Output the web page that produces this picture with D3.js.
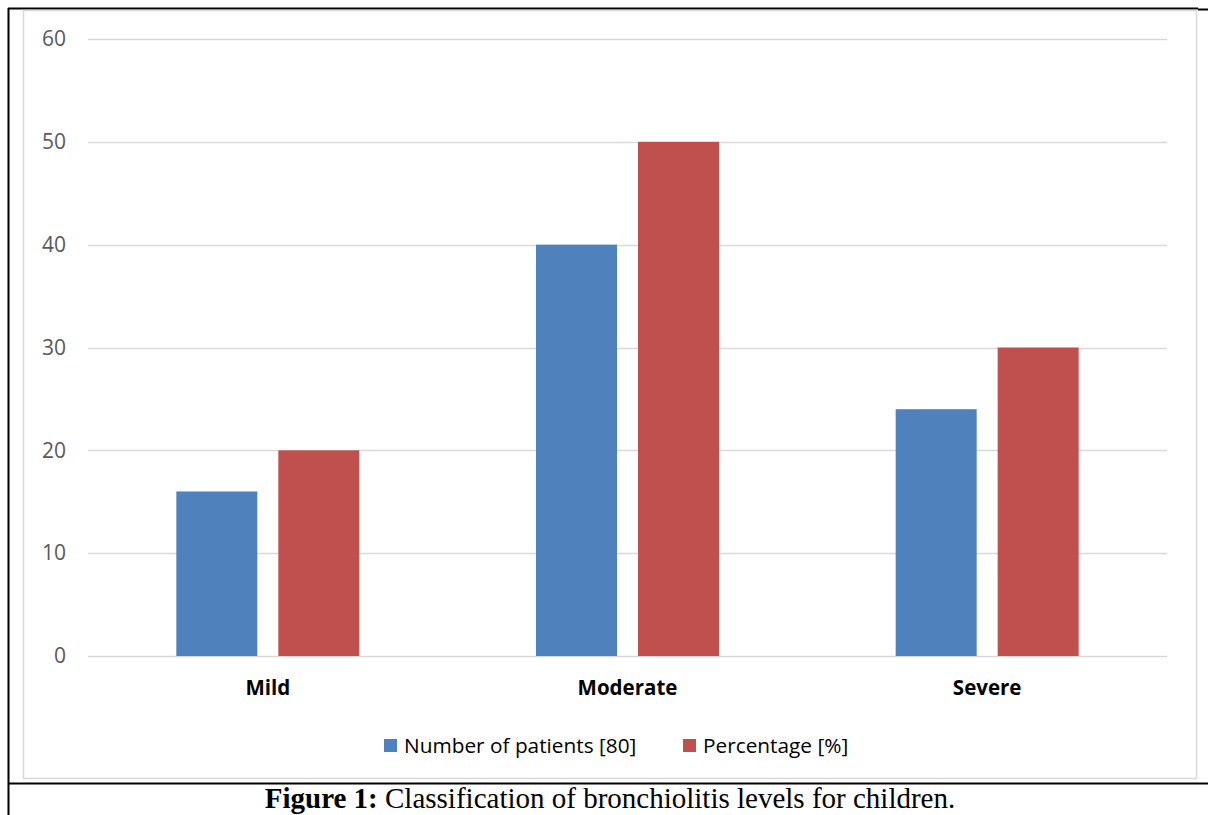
<!DOCTYPE html>
<html><head><meta charset="utf-8">
<script src="https://cdn.jsdelivr.net/npm/d3@7"></script>
<style>body{margin:0;background:#fff}svg{display:block}</style>
</head><body><svg id="c" width="1208" height="815"></svg>
<script>
const categories = ["Mild", "Moderate", "Severe"];
const seriesNames = ["Number of patients [80]", "Percentage [%]"];
const patients = [16, 40, 24];
const percentage = [20, 50, 30];
const yTicks = [0, 10, 20, 30, 40, 50, 60];
const colors = ["#4F81BD", "#C0504D"];
const caption = ["Figure 1:", " Classification of bronchiolitis levels for children."];

const svg = d3.select("#c");
const font = "'Open Sans', sans-serif";

// outer black frame lines
svg.append("line").attr("x1",8.5).attr("x2",8.5).attr("y1",8).attr("y2",815).attr("stroke","#000").attr("stroke-width",2);
svg.append("line").attr("x1",8).attr("x2",1198).attr("y1",8.5).attr("y2",8.5).attr("stroke","#000").attr("stroke-width",2);
svg.append("line").attr("x1",1198).attr("x2",1208).attr("y1",9.5).attr("y2",9.5).attr("stroke","#000").attr("stroke-width",2);
svg.append("line").attr("x1",8).attr("x2",1208).attr("y1",783.5).attr("y2",783.5).attr("stroke","#000").attr("stroke-width",2);

// chart area gray frame
svg.append("rect").attr("x",23.5).attr("y",10.5).attr("width",1173).attr("height",768)
  .attr("fill","#fff").attr("stroke","#d9d9d9").attr("stroke-width",1.5);

const x0 = d3.scaleBand().domain(categories).range([88, 1167]).paddingInner(0).paddingOuter(0);
const y = d3.scaleLinear().domain([0, 60]).range([656, 39]);

// gridlines
svg.append("g").selectAll("line").data(yTicks).join("line")
  .attr("x1", 88).attr("x2", 1167)
  .attr("y1", d => Math.round(y(d)) + 0.5).attr("y2", d => Math.round(y(d)) + 0.5)
  .attr("stroke", "#d9d9d9").attr("stroke-width", 1.5);

// y axis labels
const yAxis = d3.axisLeft(y).tickValues(yTicks).tickSize(0).tickPadding(0);
const gy = svg.append("g").attr("transform","translate(66,0)").call(yAxis);
gy.select(".domain").remove();
gy.selectAll("text").attr("font-family", font).attr("font-size", 21).attr("fill", "#595959");

// bars
const series = [patients, percentage];
const barW = 81, gap = 21;
const barData = [];
categories.forEach((c, i) => {
  series.forEach((s, j) => {
    const cx = x0(c) + x0.bandwidth() / 2;
    const left = cx - (barW * 2 + gap) / 2 + j * (barW + gap);
    barData.push({x: left, v: s[i], color: colors[j]});
  });
});
svg.append("g").selectAll("rect").data(barData).join("rect")
  .attr("x", d => d.x).attr("width", barW)
  .attr("y", d => y(d.v)).attr("height", d => y(0) - y(d.v))
  .attr("fill", d => d.color);

// x axis labels
const xAxis = d3.axisBottom(x0).tickSize(0).tickPadding(0);
const gx = svg.append("g").attr("transform","translate(0,695)").call(xAxis);
gx.select(".domain").remove();
gx.selectAll("text").attr("dy", null).attr("font-family", font).attr("font-size", 20.5).attr("font-weight","bold").attr("fill","#000");

// legend
const legendX = [384, 683];
const lg = svg.append("g");
seriesNames.forEach((n, i) => {
  lg.append("rect").attr("x", legendX[i]).attr("y", 739).attr("width", 13).attr("height", 13).attr("fill", colors[i]);
  lg.append("text").attr("x", legendX[i] + 20).attr("y", 753)
    .attr("font-family", font).attr("font-size", 20.8).attr("fill", "#000").text(n);
});

// caption
const cap = svg.append("text").attr("x", 610).attr("y", 808).attr("text-anchor","middle")
  .attr("font-family","'Liberation Serif', 'Times New Roman', serif").attr("font-size", 29).attr("fill","#000");
cap.append("tspan").attr("font-weight","bold").text(caption[0]);
cap.append("tspan").text(caption[1]);
</script></body></html>
